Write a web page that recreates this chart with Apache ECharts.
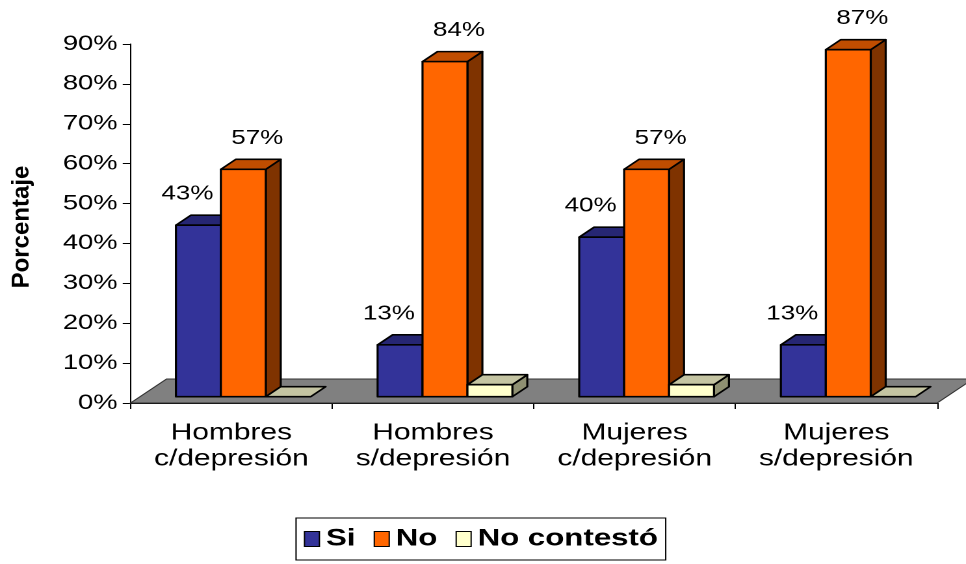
<!DOCTYPE html>
<html>
<head>
<meta charset="utf-8">
<script src="https://cdn.jsdelivr.net/npm/echarts/dist/echarts.min.js"></script>
<style>
html, body { margin: 0; padding: 0; background: #fff; overflow: hidden; }
#chart { width: 743px; height: 564px; transform: scaleX(1.3001); transform-origin: 0 0; }
</style>
</head>
<body>
<div id="chart"></div>
<script>
// ---- data ----
const categories = ['Hombres\nc/depresión', 'Hombres\ns/depresión', 'Mujeres\nc/depresión', 'Mujeres\ns/depresión'];
const seriesNames = ['Si', 'No', 'No contestó'];
const siValues = [43, 13, 40, 13];
const noValues = [57, 84, 57, 87];
const ncValues = [0, 3, 3, 0];
const yMin = 0, yMax = 90, yStep = 10;
const yAxisTitle = 'Porcentaje';

// ---- styling (unscaled space; page is stretched horizontally) ----
const FONT = 'Liberation Sans, Arial, Helvetica, sans-serif';
const BAR_FRAC = 0.2228;
const FRONT_DX = 9.2, FRONT_DY = -6.3;
const DEPTH_X = 11.5, DEPTH_Y = -10;
const FLOOR_DX = 27.7, FLOOR_DY = -24;
const LABEL_DY = -31;

const palette = [
  { front: '#333399', top: '#262673', side: '#1a1a4d' },
  { front: '#FF6600', top: '#C04D00', side: '#7F3300' },
  { front: '#FFFFCC', top: '#C4C4A2', side: '#8F9072' }
];

function makeBar(sIndex, showLabel, labelDx) {
  const c = palette[sIndex];
  return function (params, api) {
    const cat = api.value(0), val = api.value(1);
    const band = api.size([1, 0])[0];
    const bw = band * BAR_FRAC;
    const base = api.coord([cat, 0]);
    const tp = api.coord([cat, val]);
    const x0 = base[0] + FRONT_DX - 1.5 * bw + sIndex * bw;
    const x1 = x0 + bw;
    const yb = base[1] + FRONT_DY;
    const yt = tp[1] + FRONT_DY;
    const st = { stroke: '#000', lineWidth: 1.6, lineJoin: 'round' };
    const children = [];
    if (yb - yt > 0.5) {
      children.push({ type: 'polygon', shape: { points: [[x1, yt], [x1 + DEPTH_X, yt + DEPTH_Y], [x1 + DEPTH_X, yb + DEPTH_Y], [x1, yb]] },
        style: Object.assign({ fill: c.side }, st) });
    }
    children.push({ type: 'polygon', shape: { points: [[x0, yt], [x1, yt], [x1 + DEPTH_X, yt + DEPTH_Y], [x0 + DEPTH_X, yt + DEPTH_Y]] },
      style: Object.assign({ fill: c.top }, st) });
    if (yb - yt > 0.5) {
      children.push({ type: 'rect', shape: { x: x0, y: yt, width: bw, height: yb - yt },
        style: Object.assign({ fill: c.front }, st) });
    }
    if (showLabel) {
      children.push({ type: 'text', x: (x0 + x1) / 2 + labelDx, y: yt + LABEL_DY,
        style: { text: val + '%', fill: '#000', fontSize: 20, fontFamily: FONT,
          align: 'center', verticalAlign: 'middle', textAlign: 'center', textVerticalAlign: 'middle' } });
    }
    return { type: 'group', children: children };
  };
}

function floorItem(params, api) {
  const band = api.size([1, 0])[0];
  const a = api.coord([0, 0]);
  const b = api.coord([categories.length - 1, 0]);
  const l = a[0] - band / 2, r = b[0] + band / 2, y = a[1];
  return { type: 'polygon', shape: { points: [[l, y], [r, y], [r + FLOOR_DX, y + FLOOR_DY], [l + FLOOR_DX, y + FLOOR_DY]] },
    style: { fill: '#808080', stroke: '#333', lineWidth: 1 } };
}

const chart = echarts.init(document.getElementById('chart'), null, { devicePixelRatio: 2 });
chart.setOption({
  animation: false,
  backgroundColor: '#fff',
  grid: { left: 100.4, right: 22.2, top: 44, bottom: 161 },
  legend: {
    data: seriesNames,
    left: 227.7, top: 518,
    orient: 'horizontal',
    itemWidth: 11.5, itemHeight: 15, itemGap: 14,
    padding: [9, 6],
    borderColor: '#000', borderWidth: 1,
    icon: 'rect',
    itemStyle: { borderColor: '#000', borderWidth: 1 },
    textStyle: { fontFamily: FONT, fontSize: 24, fontWeight: 'bold', color: '#000' },
    selectedMode: false
  },
  xAxis: {
    type: 'category',
    data: categories,
    boundaryGap: true,
    axisLine: { lineStyle: { color: '#000', width: 1 } },
    axisTick: { show: true, length: 6, lineStyle: { color: '#000' } },
    axisLabel: { interval: 0, margin: 17, fontFamily: FONT, fontSize: 23, lineHeight: 26, color: '#000' },
    splitLine: { show: false }
  },
  yAxis: {
    type: 'value',
    min: yMin, max: yMax, interval: yStep,
    axisLine: { show: true, lineStyle: { color: '#000', width: 1 } },
    axisTick: { show: true, length: 6, lineStyle: { color: '#000' } },
    axisLabel: { formatter: '{value}%', margin: 10, fontFamily: FONT, fontSize: 21, color: '#000' },
    splitLine: { show: false }
  },
  graphic: [{
    type: 'text', x: 17, y: 227, rotation: Math.PI / 2, scaleY: 1 / 1.3,
    style: { text: yAxisTitle, fill: '#000', fontFamily: FONT, fontSize: 24, fontWeight: 'bold',
      align: 'center', verticalAlign: 'middle', textAlign: 'center', textVerticalAlign: 'middle' }
  }],
  series: [
    { type: 'custom', name: 'floor', z: 1, silent: true, data: [[0, 0]], encode: { x: 0, y: 1 },
      itemStyle: { color: '#808080' }, renderItem: floorItem },
    { type: 'custom', name: seriesNames[0], z: 2, data: siValues.map((v, i) => [i, v]), encode: { x: 0, y: 1 },
      itemStyle: { color: palette[0].front }, renderItem: makeBar(0, true, -8.5) },
    { type: 'custom', name: seriesNames[1], z: 3, data: noValues.map((v, i) => [i, v]), encode: { x: 0, y: 1 },
      itemStyle: { color: palette[1].front }, renderItem: makeBar(1, true, 10.8) },
    { type: 'custom', name: seriesNames[2], z: 4, data: ncValues.map((v, i) => [i, v]), encode: { x: 0, y: 1 },
      itemStyle: { color: palette[2].front }, renderItem: makeBar(2, false, 0) }
  ]
});
</script>
</body>
</html>
